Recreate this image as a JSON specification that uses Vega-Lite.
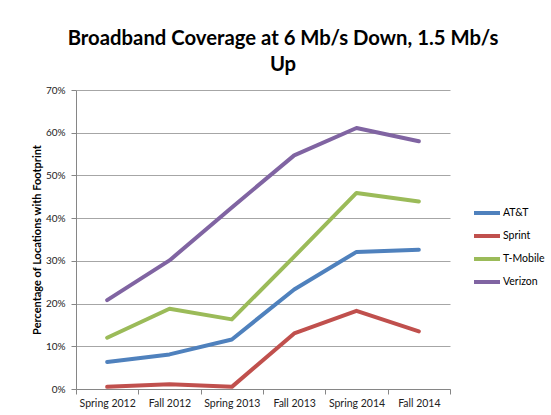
{
  "$schema": "https://vega.github.io/schema/vega-lite/v6.json",
  "width": 374,
  "height": 299,
  "autosize": "none",
  "padding": {"left": 76, "top": 90, "right": 101, "bottom": 26},
  "background": "white",
  "title": {
    "text": ["Broadband Coverage at 6 Mb/s Down, 1.5 Mb/s", "Up"],
    "font": "Lato",
    "fontSize": 20.3,
    "fontWeight": "bold",
    "color": "#000000",
    "lineHeight": 26,
    "anchor": "middle",
    "dx": 20,
    "offset": 10
  },
  "config": {
    "view": {"stroke": null},
    "font": "Lato"
  },
  "data": {
    "values": [
      {"period": "Spring 2012", "carrier": "AT&T", "value": 0.063},
      {"period": "Fall 2012", "carrier": "AT&T", "value": 0.081},
      {"period": "Spring 2013", "carrier": "AT&T", "value": 0.116},
      {"period": "Fall 2013", "carrier": "AT&T", "value": 0.233},
      {"period": "Spring 2014", "carrier": "AT&T", "value": 0.321},
      {"period": "Fall 2014", "carrier": "AT&T", "value": 0.326},
      {"period": "Spring 2012", "carrier": "Sprint", "value": 0.005},
      {"period": "Fall 2012", "carrier": "Sprint", "value": 0.011},
      {"period": "Spring 2013", "carrier": "Sprint", "value": 0.005},
      {"period": "Fall 2013", "carrier": "Sprint", "value": 0.130},
      {"period": "Spring 2014", "carrier": "Sprint", "value": 0.183},
      {"period": "Fall 2014", "carrier": "Sprint", "value": 0.135},
      {"period": "Spring 2012", "carrier": "T-Mobile", "value": 0.120},
      {"period": "Fall 2012", "carrier": "T-Mobile", "value": 0.188},
      {"period": "Spring 2013", "carrier": "T-Mobile", "value": 0.163},
      {"period": "Fall 2013", "carrier": "T-Mobile", "value": 0.310},
      {"period": "Spring 2014", "carrier": "T-Mobile", "value": 0.459},
      {"period": "Fall 2014", "carrier": "T-Mobile", "value": 0.439},
      {"period": "Spring 2012", "carrier": "Verizon", "value": 0.208},
      {"period": "Fall 2012", "carrier": "Verizon", "value": 0.301},
      {"period": "Spring 2013", "carrier": "Verizon", "value": 0.425},
      {"period": "Fall 2013", "carrier": "Verizon", "value": 0.547},
      {"period": "Spring 2014", "carrier": "Verizon", "value": 0.611},
      {"period": "Fall 2014", "carrier": "Verizon", "value": 0.580}
    ]
  },
  "mark": {"type": "line", "strokeWidth": 4, "strokeCap": "round", "strokeJoin": "round"},
  "encoding": {
    "x": {
      "field": "period",
      "type": "nominal",
      "sort": ["Spring 2012", "Fall 2012", "Spring 2013", "Fall 2013", "Spring 2014", "Fall 2014"],
      "scale": {"type": "band", "paddingInner": 0, "paddingOuter": 0},
      "axis": {
        "title": null,
        "labelAngle": 0,
        "labelFont": "Lato",
        "labelFontSize": 10.5,
        "labelColor": "#222222",
        "labelPadding": 4,
        "domainColor": "#868686",
        "tickColor": "#868686",
        "tickSize": 5,
        "tickBand": "extent",
        "grid": false
      }
    },
    "y": {
      "field": "value",
      "type": "quantitative",
      "scale": {"domain": [0, 0.7], "nice": false},
      "axis": {
        "title": "Percentage of  Locations with Footprint",
        "titleFont": "Lato",
        "titleFontSize": 11,
        "titleFontWeight": "bold",
        "titleColor": "#000000",
        "titlePadding": 3,
        "format": ".0%",
        "values": [0, 0.1, 0.2, 0.3, 0.4, 0.5, 0.6, 0.7],
        "labelFont": "Lato",
        "labelFontSize": 10,
        "labelColor": "#222222",
        "labelPadding": 6,
        "domainColor": "#868686",
        "tickColor": "#868686",
        "tickSize": 5,
        "gridColor": "#a6a6a6",
        "gridWidth": 1
      }
    },
    "color": {
      "field": "carrier",
      "type": "nominal",
      "scale": {
        "domain": ["AT&T", "Sprint", "T-Mobile", "Verizon"],
        "range": ["#4F81BD", "#C0504D", "#9BBB59", "#8064A2"]
      },
      "legend": {
        "title": null,
        "orient": "none",
        "legendX": 396,
        "legendY": 108,
        "symbolType": "stroke",
        "symbolStrokeWidth": 4,
        "symbolSize": 676,
        "labelFont": "Lato",
        "labelFontSize": 10.5,
        "labelColor": "#000000",
        "labelOffset": 1,
        "rowPadding": -2
      }
    }
  }
}
